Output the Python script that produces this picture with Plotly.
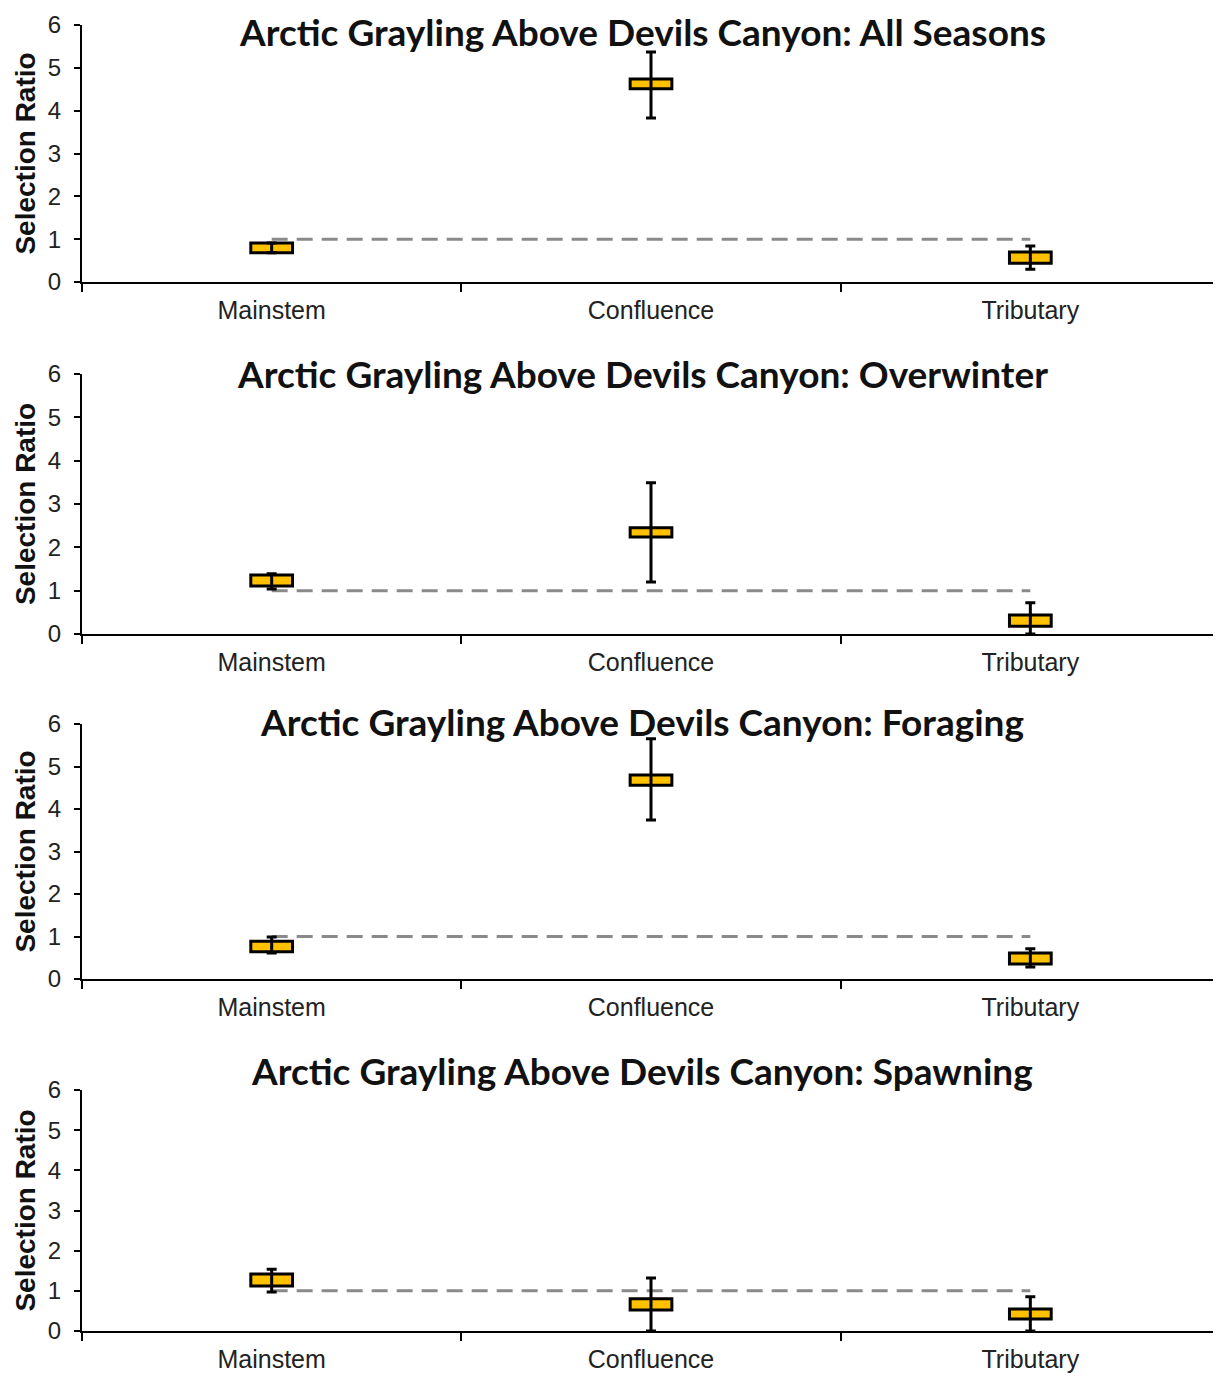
import plotly.graph_objects as go
from plotly.subplots import make_subplots

categories = ["Mainstem", "Confluence", "Tributary"]
panel_titles = [
    "Arctic Grayling Above Devils Canyon: All Seasons",
    "Arctic Grayling Above Devils Canyon: Overwinter",
    "Arctic Grayling Above Devils Canyon: Foraging",
    "Arctic Grayling Above Devils Canyon: Spawning",
]
# box lower / upper edges and whisker ends per panel
box_low = [
    [0.68, 4.51, 0.44],
    [1.11, 2.24, 0.18],
    [0.64, 4.56, 0.35],
    [1.12, 0.52, 0.30],
]
box_high = [
    [0.91, 4.74, 0.70],
    [1.36, 2.45, 0.44],
    [0.89, 4.80, 0.61],
    [1.42, 0.80, 0.55],
]
whisker_low = [
    [0.68, 3.83, 0.30],
    [1.04, 1.20, 0.00],
    [0.61, 3.74, 0.28],
    [0.97, 0.00, 0.00],
]
whisker_high = [
    [0.91, 5.37, 0.84],
    [1.39, 3.49, 0.72],
    [0.99, 5.65, 0.71],
    [1.54, 1.32, 0.85],
]
reference_line = [1, 1]
y_ticks = [0, 1, 2, 3, 4, 5, 6]

OFF = 8  # page body margin
W, H = 1221 - OFF, 1376 - OFF
ML, MR = 82 - OFF, 1
# plot-area pixel extents (top, bottom) for each panel, in page pixels
panel_px = [(25, 282), (374, 634), (724, 979), (1090, 1331)]
title_px = [31, 373, 721, 1070]
title_x_px = 642

fig = make_subplots(rows=4, cols=1)

for i in range(4):
    r = i + 1
    mid = [(a + b) / 2 for a, b in zip(box_low[i], box_high[i])]
    fig.add_trace(go.Scatter(
        x=[categories[0], categories[-1]], y=reference_line, mode="lines",
        line=dict(color="#8a8a8a", width=3, dash="16px,9px"),
        hoverinfo="skip", showlegend=False), row=r, col=1)
    fig.add_trace(go.Scatter(
        x=categories, y=mid, mode="markers",
        marker=dict(size=1, opacity=0),
        error_y=dict(type="data", symmetric=False,
                     array=[h - m for h, m in zip(whisker_high[i], mid)],
                     arrayminus=[m - l for m, l in zip(mid, whisker_low[i])],
                     color="black", thickness=3, width=5),
        showlegend=False), row=r, col=1)
    fig.add_trace(go.Bar(
        x=categories, base=box_low[i],
        y=[h - l for h, l in zip(box_high[i], box_low[i])],
        width=0.11, marker=dict(color="#FFC000", line=dict(color="black", width=3)),
        showlegend=False), row=r, col=1)

    top, bot = panel_px[i][0] - OFF, panel_px[i][1] - OFF
    fig.update_yaxes(domain=[1 - bot / H, 1 - top / H], range=[0, 6],
                     tickvals=y_ticks, ticks="outside", ticklen=6, tickwidth=2,
                     tickcolor="black", showline=True, linecolor="black", linewidth=2,
                     showgrid=False, zeroline=False, automargin=False,
                     tickfont=dict(family="Arial", size=24, color="#222"),
                     ticklabelstandoff=8,
                     title=dict(text="<b>Selection Ratio</b>",
                                font=dict(family="Arial", size=28, color="#111"),
                                standoff=4),
                     row=r, col=1)
    fig.update_xaxes(type="category", categoryorder="array", categoryarray=categories,
                     range=[-0.5, 2.5], tickson="boundaries", ticks="outside",
                     ticklen=8, tickwidth=2, tickcolor="black",
                     showline=True, linecolor="black", linewidth=2, showgrid=False,
                     automargin=False,
                     tickfont=dict(family="Arial", size=25, color="#222"),
                     ticklabelstandoff=5,
                     row=r, col=1)
    fig.add_annotation(text="<b>" + panel_titles[i] + "</b>", xref="paper", yref="paper",
                       x=(title_x_px - OFF - ML) / (W - ML - MR),
                       y=1 - (title_px[i] - OFF) / H,
                       xanchor="center", yanchor="middle",
                       showarrow=False, font=dict(family="Lato", size=37, color="#111"))

fig.update_layout(width=W, height=H, margin=dict(l=ML, r=MR, t=0, b=0, autoexpand=False),
                  plot_bgcolor="white", paper_bgcolor="white", barmode="overlay",
                  showlegend=False)
fig.write_html("out.html")
